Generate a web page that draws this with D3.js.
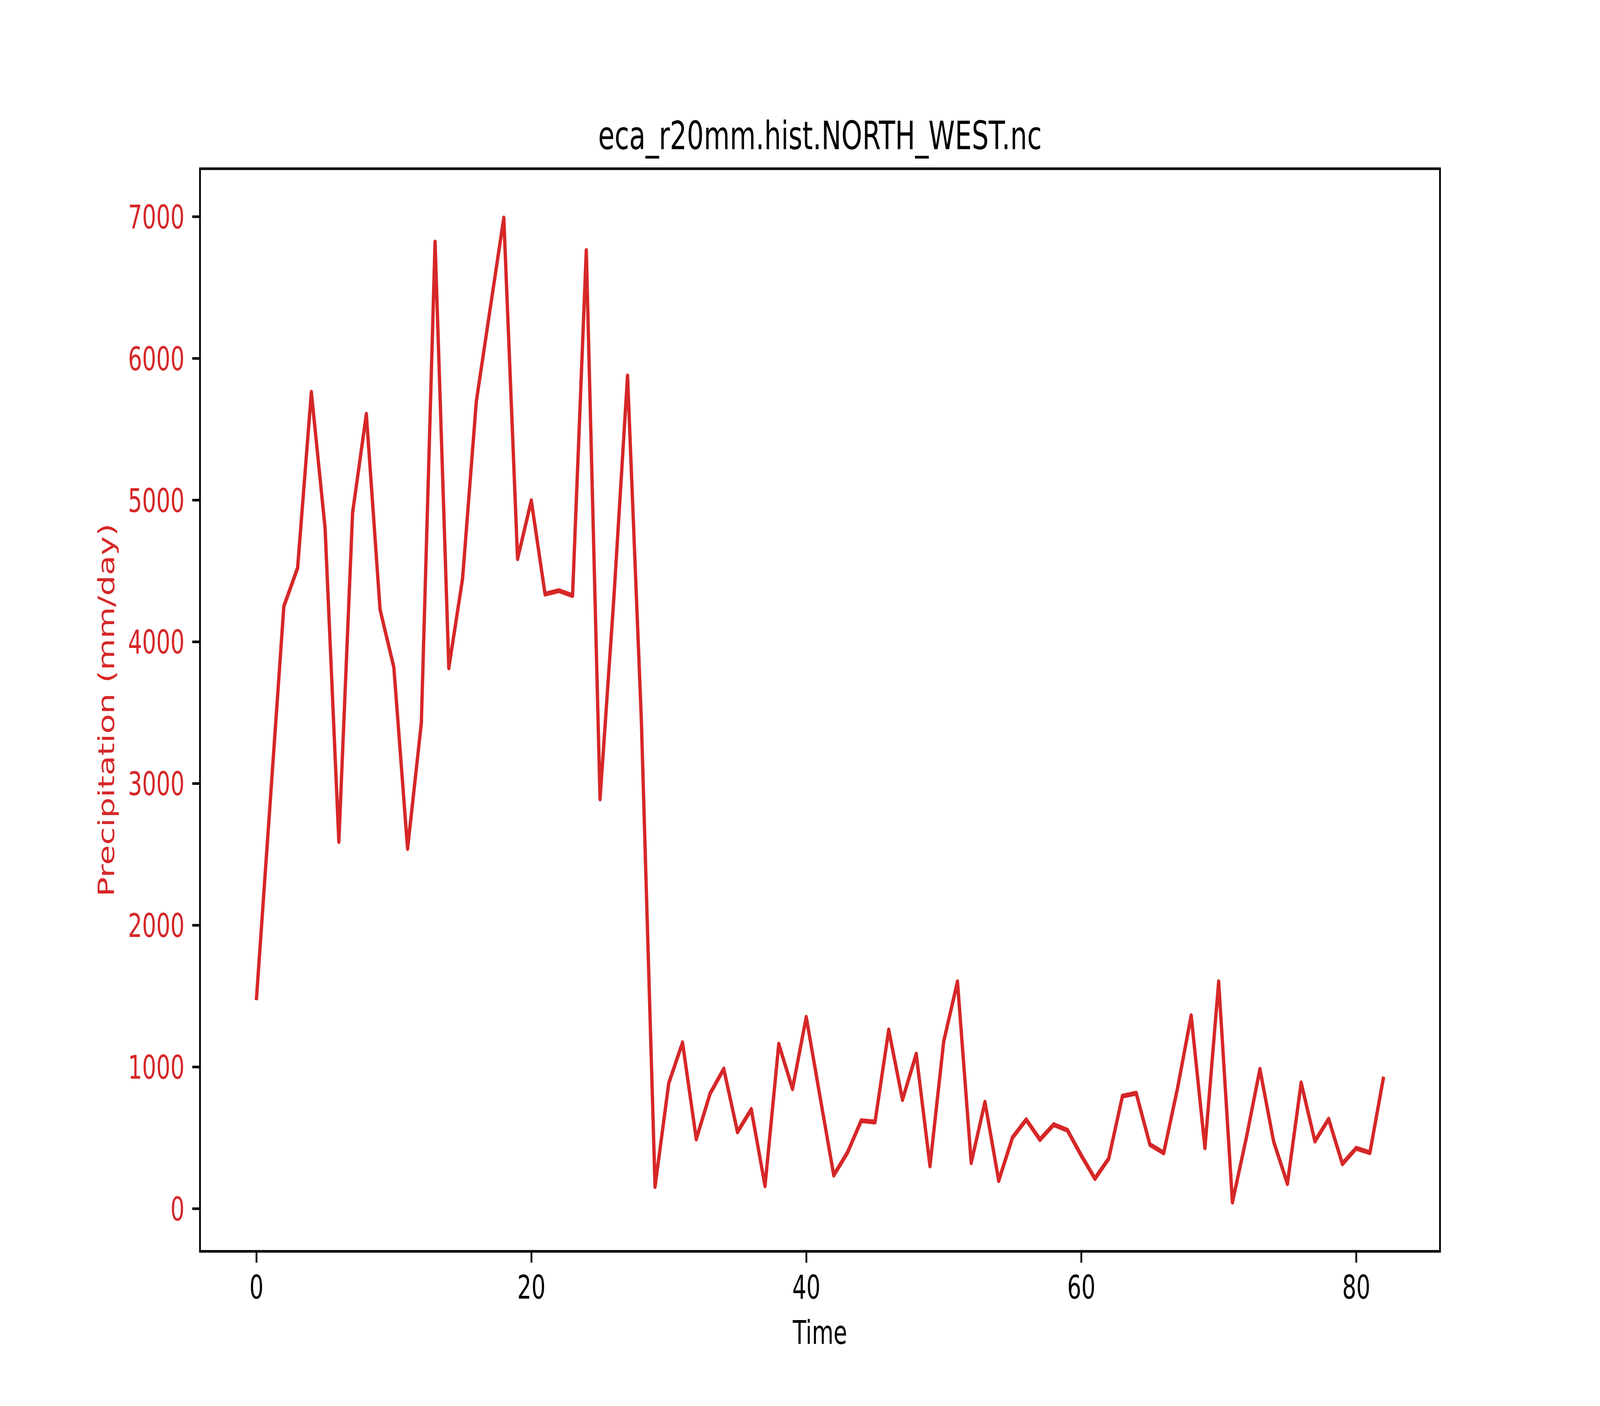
<!DOCTYPE html>
<html>
<head>
<meta charset="utf-8">
<script src="https://cdn.jsdelivr.net/npm/d3@7"></script>
<style>
  html, body { margin: 0; padding: 0; width: 100%; height: 100%; overflow: hidden; background: #fff; }
  svg { display: block; width: 100vw; height: 100vh; }
  text { font-family: "DejaVu Sans", sans-serif; }
</style>
</head>
<body>
<script>
// values, one per time step (0..82)
var precip = [
  1470, 2860, 4250, 4520, 5760, 4800, 2590, 4910, 5605, 4225,
  3820, 2540, 3425, 6820, 3815, 4445, 5695, 6345, 6990, 4585,
  4995, 4335, 4360, 4325, 6760, 2890, 4300, 5875, 3460, 155,
  885, 1170, 490, 810, 985, 540, 700, 160, 1160, 845,
  1350, 790, 235, 395, 620, 610, 1260, 768, 1090, 300,
  1180, 1600, 323, 751, 197, 500, 627, 486, 592, 552,
  375, 211, 352, 793, 814, 451, 392, 845, 1361, 428,
  1600, 45, 493, 983, 472, 175, 887, 475, 631, 315,
  425, 394, 930
];
var xTicks = [0, 20, 40, 60, 80];
var yTicks = [0, 1000, 2000, 3000, 4000, 5000, 6000, 7000];
var titleText = "eca_r20mm.hist.NORTH_WEST.nc";
var xLabel = "Time";
var yLabel = "Precipitation (mm/day)";

// figure is 10 x 6 in at 600 dpi, default subplot box
var W = 6000, H = 3600;
var axLeft = 750, axRight = 5400, axTop = 432, axBottom = 3204;
var red = "#d62728";
var fs = 83.33; // 10pt at 600 dpi

// drawn in a 6000x3600 user space, stretched onto whatever the viewport is
var svg = d3.select("body").append("svg")
    .attr("viewBox", "0 0 " + W + " " + H)
    .attr("preserveAspectRatio", "none");
svg.append("rect").attr("width", W).attr("height", H).attr("fill", "#fff");

// matplotlib style 5% margins
var n = precip.length;
var xPad = (n - 1) * 0.05;
var yMin = d3.min(precip), yMax = d3.max(precip);
var yPad = (yMax - yMin) * 0.05;
var x = d3.scaleLinear().domain([-xPad, n - 1 + xPad]).range([axLeft, axRight]);
var y = d3.scaleLinear().domain([yMin - yPad, yMax + yPad]).range([axBottom, axTop]);

// the data line
var line = d3.line().x(function(d, i) { return x(i); }).y(function(d) { return y(d); });
svg.append("path")
    .datum(precip)
    .attr("d", line)
    .attr("fill", "none")
    .attr("stroke", red)
    .attr("stroke-width", 12.5)
    .attr("stroke-linejoin", "round");

// axes
var xAxis = svg.append("g")
    .attr("transform", "translate(0," + axBottom + ")")
    .call(d3.axisBottom(x).tickValues(xTicks).tickSize(29).tickPadding(29).tickFormat(d3.format("d")));
xAxis.select(".domain").remove();
xAxis.selectAll(".tick line").attr("stroke", "#000").attr("stroke-width", 6.67);
xAxis.selectAll(".tick text").attr("fill", "#000").style("font-size", fs + "px")
    .attr("dy", "0.76em");

var yAxis = svg.append("g")
    .attr("transform", "translate(" + axLeft + ",0)")
    .call(d3.axisLeft(y).tickValues(yTicks).tickSize(29).tickPadding(29).tickFormat(d3.format("d")));
yAxis.select(".domain").remove();
yAxis.selectAll(".tick line").attr("stroke", "#000").attr("stroke-width", 6.67);
yAxis.selectAll(".tick text").attr("fill", red).style("font-size", fs + "px")
    .attr("dy", "0.36em");

// frame
svg.append("rect")
    .attr("x", axLeft).attr("y", axTop)
    .attr("width", axRight - axLeft).attr("height", axBottom - axTop)
    .attr("fill", "none").attr("stroke", "#000").attr("stroke-width", 6.67);

// labels
svg.append("text")
    .attr("x", (axLeft + axRight) / 2).attr("y", 382)
    .attr("text-anchor", "middle")
    .style("font-size", "100px")
    .text(titleText);

svg.append("text")
    .attr("x", (axLeft + axRight) / 2).attr("y", 3441)
    .attr("text-anchor", "middle")
    .style("font-size", fs + "px")
    .text(xLabel);

svg.append("text")
    .attr("transform", "translate(428," + (axTop + axBottom) / 2 + ") rotate(-90)")
    .attr("text-anchor", "middle")
    .attr("fill", red)
    .style("font-size", fs + "px")
    .text(yLabel);
</script>
</body>
</html>
